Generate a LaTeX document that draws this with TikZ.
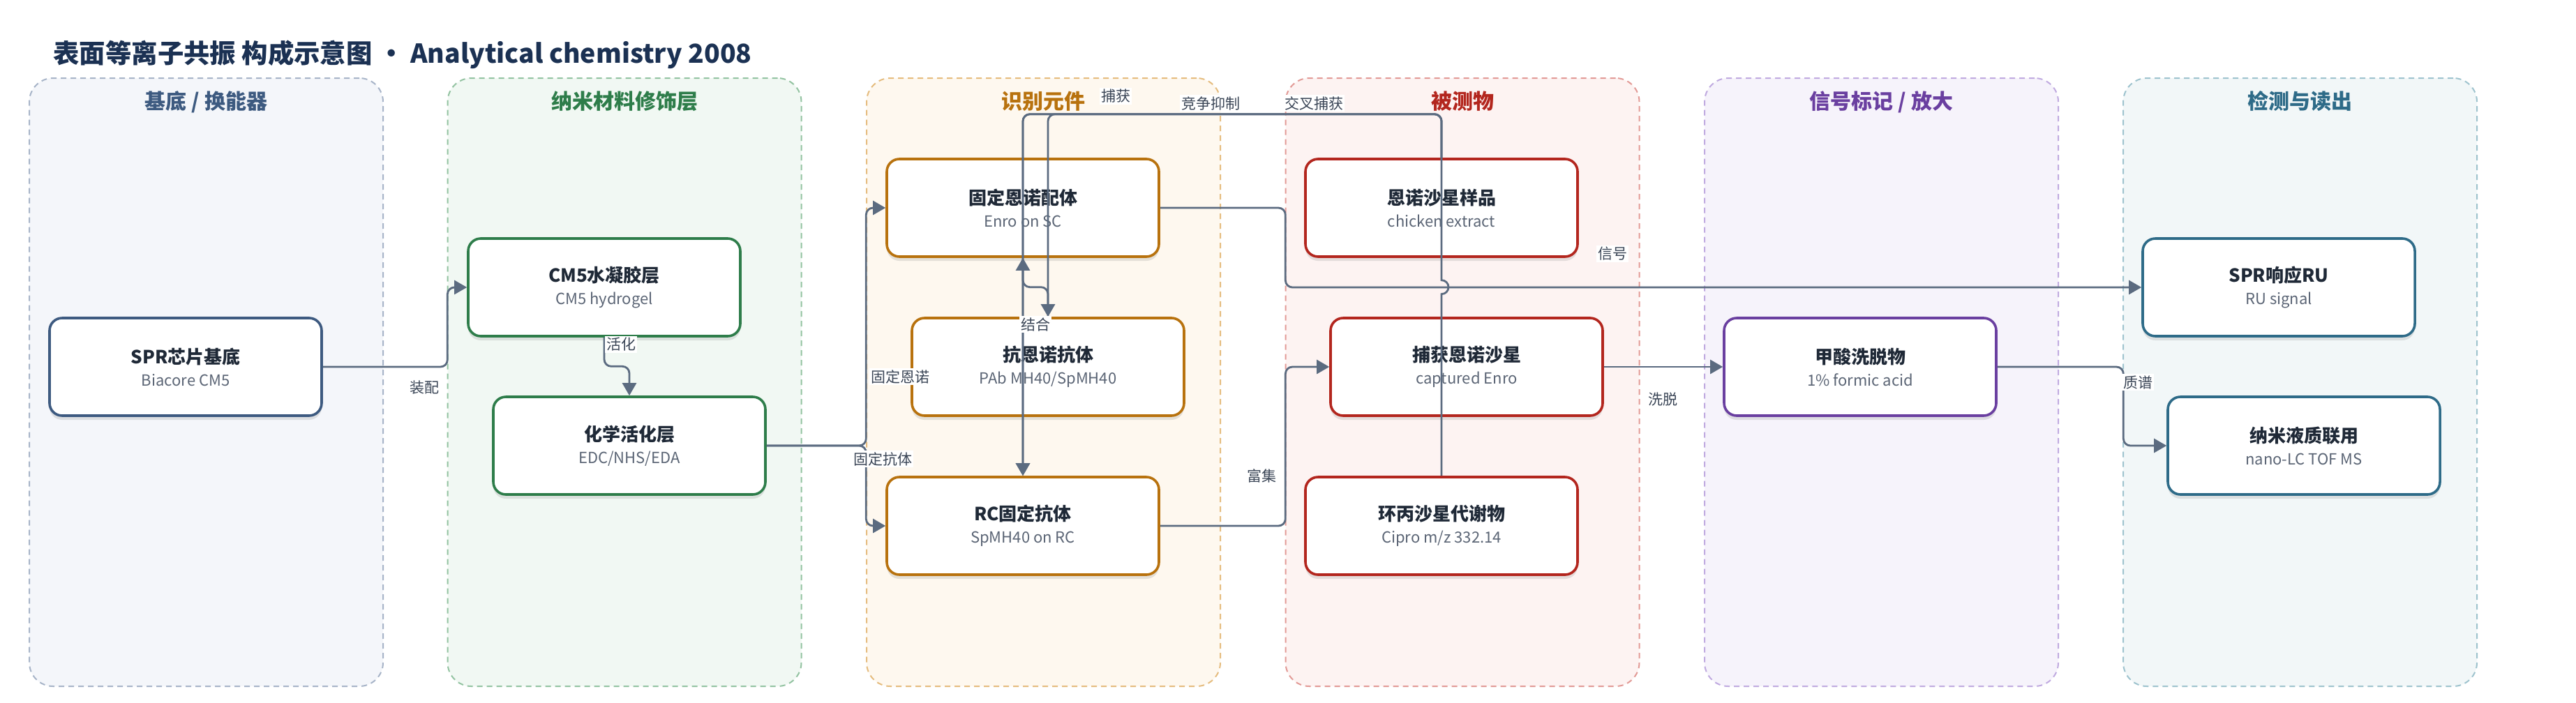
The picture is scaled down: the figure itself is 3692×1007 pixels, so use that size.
\documentclass[tikz,border=0pt]{standalone}
\usepackage{fontspec}
\setmainfont{Noto Sans CJK SC}
\usepackage{xcolor}
\usepackage{tikz}
\usetikzlibrary{arrows.meta, shadows}

\definecolor{flowline}{HTML}{5B6B80}
\definecolor{ttl}{HTML}{1B3153}
\definecolor{nodetext}{HTML}{1F2937}
\definecolor{subtext}{HTML}{5B6575}
\definecolor{lbltext}{HTML}{3A4556}
\definecolor{subfill}{HTML}{F4F6FA}\definecolor{subline}{HTML}{A7B4C8}\definecolor{subdark}{HTML}{3D5A80}
\definecolor{nanofill}{HTML}{F1F8F3}\definecolor{nanoline}{HTML}{93C3A1}\definecolor{nanodark}{HTML}{2E7D4A}
\definecolor{recfill}{HTML}{FEF8EF}\definecolor{recline}{HTML}{E5BC7E}\definecolor{recdark}{HTML}{B8720E}
\definecolor{anafill}{HTML}{FDF3F2}\definecolor{analine}{HTML}{E29A96}\definecolor{anadark}{HTML}{B3261E}
\definecolor{sigfill}{HTML}{F6F3FB}\definecolor{sigline}{HTML}{C0AAE0}\definecolor{sigdark}{HTML}{6A3FA0}
\definecolor{detfill}{HTML}{F2F7F8}\definecolor{detline}{HTML}{9EC3CE}\definecolor{detdark}{HTML}{2E6B88}

\tikzset{
>={Triangle[length=9pt,width=10pt]},
flow/.style={->, draw=flowline, line width=1.4pt, rounded corners=5pt},
vloop/.style={to path={-- ++(#1,0) |- (\tikztotarget)}},
dloop/.style={to path={-- ++(0,#1) -| (\tikztotarget)}},
lane/.style={%
    rectangle,
    rounded corners=17pt,
    minimum width=253.5pt,
    minimum height=436pt,
    dash pattern=on 4pt off 3pt,
    line width=1pt
},
lanetitle/.style={font=\fontsize{15}{18}\selectfont\bfseries, inner sep=0pt, anchor=base},
box/.style={%
    rectangle,
    minimum width=195pt,
    minimum height=70pt,
    rounded corners=9pt,
    fill=white,
    line width=1.8pt,
    align=center,
    text=nodetext,
    font=\fontsize{11}{17}\selectfont,
    drop shadow={shadow xshift=0pt,shadow yshift=-3pt,opacity=0.2}
},
lbl/.style={fill=white, inner sep=1pt, text=lbltext, font=\fontsize{10.5}{12}\selectfont},
}
\newcommand{\nd}[2]{\raisebox{-1pt}{\fontsize{13}{17}\selectfont\bfseries #1}\\{\color{subtext}#2}}

\begin{document}
\begin{tikzpicture}[x=0.5pt, y=-0.5pt]
	\useasboundingbox[fill=white] (0,0) rectangle (3692,1007);

	\node[anchor=base west, inner sep=0pt, text=ttl, font=\fontsize{18.7}{23}\selectfont\bfseries] (title) at (76,90) {表面等离子共振 构成示意图 · Analytical chemistry 2008};

	\node[lane, draw=subline, fill=subfill] (lane1) at (295.5,548) {};
	\node[lane, draw=nanoline, fill=nanofill] (lane2) at (895,548) {};
	\node[lane, draw=recline, fill=recfill] (lane3) at (1495.5,548) {};
	\node[lane, draw=analine, fill=anafill] (lane4) at (2096,548) {};
	\node[lane, draw=sigline, fill=sigfill] (lane5) at (2696.5,548) {};
	\node[lane, draw=detline, fill=detfill] (lane6) at (3296.5,548) {};

	\node[lanetitle, text=subdark] (t1) at (295.5,156) {基底 / 换能器};
	\node[lanetitle, text=nanodark] (t2) at (895,156) {纳米材料修饰层};
	\node[lanetitle, text=recdark] (t3) at (1495.5,156) {识别元件};
	\node[lanetitle, text=anadark] (t4) at (2096,156) {被测物};
	\node[lanetitle, text=sigdark] (t5) at (2696.5,156) {信号标记 / 放大};
	\node[lanetitle, text=detdark] (t6) at (3296.5,156) {检测与读出};

	\node[box, draw=subdark] (spr) at (266,526) {\nd{SPR芯片基底}{Biacore CM5}};
	\node[box, draw=nanodark] (cm5) at (866,412) {\nd{CM5水凝胶层}{CM5 hydrogel}};
	\node[box, draw=nanodark] (act) at (902,639) {\nd{化学活化层}{EDC/NHS/EDA}};
	\node[box, draw=recdark] (lig) at (1466,298) {\nd{固定恩诺配体}{Enro on SC}};
	\node[box, draw=recdark] (pab) at (1502,526) {\nd{抗恩诺抗体}{PAb MH40/SpMH40}};
	\node[box, draw=recdark] (rcab) at (1466,754) {\nd{RC固定抗体}{SpMH40 on RC}};
	\node[box, draw=anadark] (smp) at (2066,298) {\nd{恩诺沙星样品}{chicken extract}};
	\node[box, draw=anadark] (cap) at (2102,526) {\nd{捕获恩诺沙星}{captured Enro}};
	\node[box, draw=anadark] (cip) at (2066,754) {\nd{环丙沙星代谢物}{Cipro m/z 332.14}};
	\node[box, draw=sigdark] (elu) at (2666,526) {\nd{甲酸洗脱物}{1\% formic acid}};
	\node[box, draw=detdark] (ru) at (3266,412) {\nd{SPR响应RU}{RU signal}};
	\node[box, draw=detdark] (ms) at (3302,639) {\nd{纳米液质联用}{nano-LC TOF MS}};

	\path (spr.east) edge[flow, vloop=178.5] (cm5.west);
	\path (cm5.south) edge[flow, dloop=41.5] (act.north);
	\path (act.east) edge[flow, vloop=142.5] (lig.west);
	\path (act.east) edge[flow, vloop=142.5] (rcab.west);
	\path (pab.north) edge[flow, dloop=-42.5] (lig.south);
	\path (smp.north) edge[flow, dloop=-62.5] (rcab.north);
	\path (smp.north) edge[flow, dloop=-62.5] (pab.north);
	\draw[flow, sharp corners] (cip.north) -- ++(0,-260.5) arc[start angle=-90, end angle=90, radius=5pt] -- ++(0,-100) [rounded corners=5pt] -- ++(0,-138) -| (rcab.north);
	\path (lig.east) edge[flow, vloop=179.5] (ru.west);
	\path (rcab.east) edge[flow, vloop=179.5] (cap.west);
	\path (cap.east) edge[flow] (elu.west);
	\path (elu.east) edge[flow, vloop=180.5] (ms.west);

	\node[lbl] (lzp) at (608,556) {装配};
	\node[lbl] (lhh) at (890,494) {活化};
	\node[lbl] (lgden) at (1290,540) {固定恩诺};
	\node[lbl] (lgdkt) at (1265,658) {固定抗体};
	\node[lbl] (ljh) at (1484,465) {结合};
	\node[lbl] (lbh) at (1599,138) {捕获};
	\node[lbl] (ljzyz) at (1735,148) {竞争抑制};
	\node[lbl] (ljcbh) at (1883,148) {交叉捕获};
	\node[lbl] (lxh) at (2311,364) {信号};
	\node[lbl] (lfj) at (1808,682) {富集};
	\node[lbl] (lxt) at (2383,573) {洗脱};
	\node[lbl] (lzpu) at (3064,548) {质谱};
\end{tikzpicture}
\end{document}
